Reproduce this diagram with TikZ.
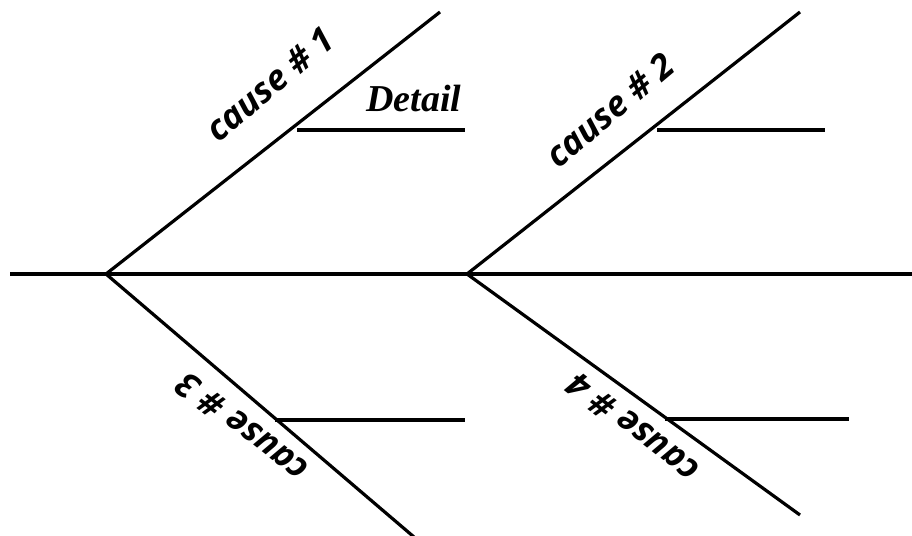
\documentclass[tikz,border=0pt]{standalone}
\usepackage{fontspec}
\newfontfamily\causefont{Open Sans}
\newfontfamily\detailfont{Liberation Serif}
\begin{document}
\begin{tikzpicture}[x=1pt,y=-1pt,
  bone/.style={line width=3.2pt,line cap=butt},
  causelbl/.style={font=\causefont\bfseries\itshape\fontsize{35}{35}\selectfont,inner sep=0pt},
  detaillbl/.style={font=\detailfont\bfseries\itshape\fontsize{38}{38}\selectfont,inner sep=0pt}]
\useasboundingbox (0,0) rectangle (912,535);
% spine
\coordinate (s0) at (10,274);
\coordinate (s1) at (912,274);
\coordinate (j1) at (106,274);
\coordinate (j2) at (467,274);
% bone ends
\coordinate (e1) at (440,12);
\coordinate (e2) at (800,12);
\coordinate (e3) at (414,537);
\coordinate (e4) at (800,515);
% detail lines
\coordinate (d1a) at (297,130);
\coordinate (d1b) at (465,130);
\coordinate (d2a) at (657,130);
\coordinate (d2b) at (825,130);
\coordinate (d3a) at (275,420);
\coordinate (d3b) at (465,420);
\coordinate (d4a) at (665,419);
\coordinate (d4b) at (849,419);
\draw[bone] (s0) -- (s1);
\draw[bone] (j1) -- (e1);
\draw[bone] (j2) -- (e2);
\draw[bone] (j1) -- (e3);
\draw[bone] (j2) -- (e4);
\draw[bone] (d1a) -- (d1b);
\draw[bone] (d2a) -- (d2b);
\draw[bone] (d3a) -- (d3b);
\draw[bone] (d4a) -- (d4b);
% labels
\node[causelbl,rotate=40] (c1) at (270,84) {cause \# 1};
\node[causelbl,rotate=40] (c2) at (610,110) {cause \# 2};
\node[causelbl,rotate=142] (c3) at (242,428) {cause \# 3};
\node[causelbl,rotate=142] (c4) at (633,428) {cause \# 4};
\node[detaillbl] (dt) at (414,99) {Detail};
\end{tikzpicture}
\end{document}
